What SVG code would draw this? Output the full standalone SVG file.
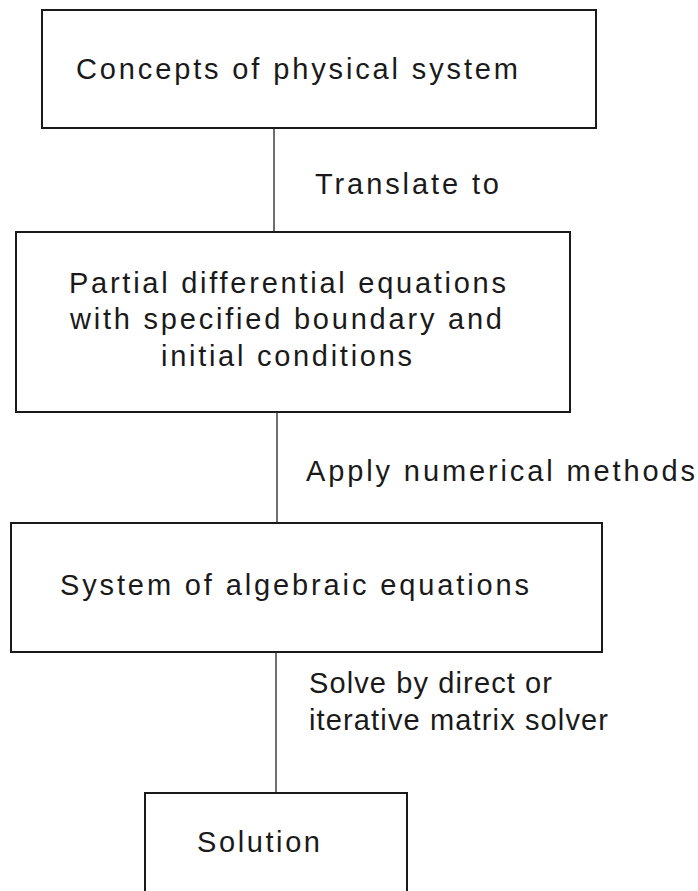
<svg xmlns="http://www.w3.org/2000/svg" width="698" height="891" viewBox="0 0 698 891">
<style>
.box{fill:#fff;stroke:#1a1a1a;stroke-width:2}
.conn{stroke:#333;stroke-width:1.4;fill:none}
text{font-family:"Liberation Sans",Arial,sans-serif;font-size:29px;fill:#1a1a1a}
</style>
<rect width="698" height="891" fill="#fff"/>
<g id="connectors">
<line class="conn" x1="274" y1="128" x2="274" y2="232"/>
<line class="conn" x1="277" y1="413" x2="277" y2="523"/>
<line class="conn" x1="276" y1="652" x2="276" y2="793"/>
</g>
<g id="edge-labels">
<text x="315" y="194" textLength="184" lengthAdjust="spacing">Translate to</text>
<text x="306" y="481" textLength="389" lengthAdjust="spacing">Apply numerical methods</text>
<text x="309" y="693" textLength="243" lengthAdjust="spacing">Solve by direct or</text>
<text x="309" y="730" textLength="299" lengthAdjust="spacing">iterative matrix solver</text>
</g>
<g id="node-concepts">
<rect class="box" x="42" y="10" width="554" height="118"/>
<text x="76" y="79" textLength="442" lengthAdjust="spacing">Concepts of physical system</text>
</g>
<g id="node-pde">
<rect class="box" x="16" y="232" width="554" height="180"/>
<text x="69" y="293" textLength="437" lengthAdjust="spacing">Partial differential equations</text>
<text x="70" y="329" textLength="432" lengthAdjust="spacing">with specified boundary and</text>
<text x="161" y="366" textLength="251" lengthAdjust="spacing">initial conditions</text>
</g>
<g id="node-algebraic">
<rect class="box" x="11" y="523" width="591" height="129"/>
<text x="60" y="595" textLength="469" lengthAdjust="spacing">System of algebraic equations</text>
</g>
<g id="node-solution">
<rect class="box" x="145" y="793" width="262" height="120"/>
<text x="197" y="852" textLength="123" lengthAdjust="spacing">Solution</text>
</g>
</svg>
